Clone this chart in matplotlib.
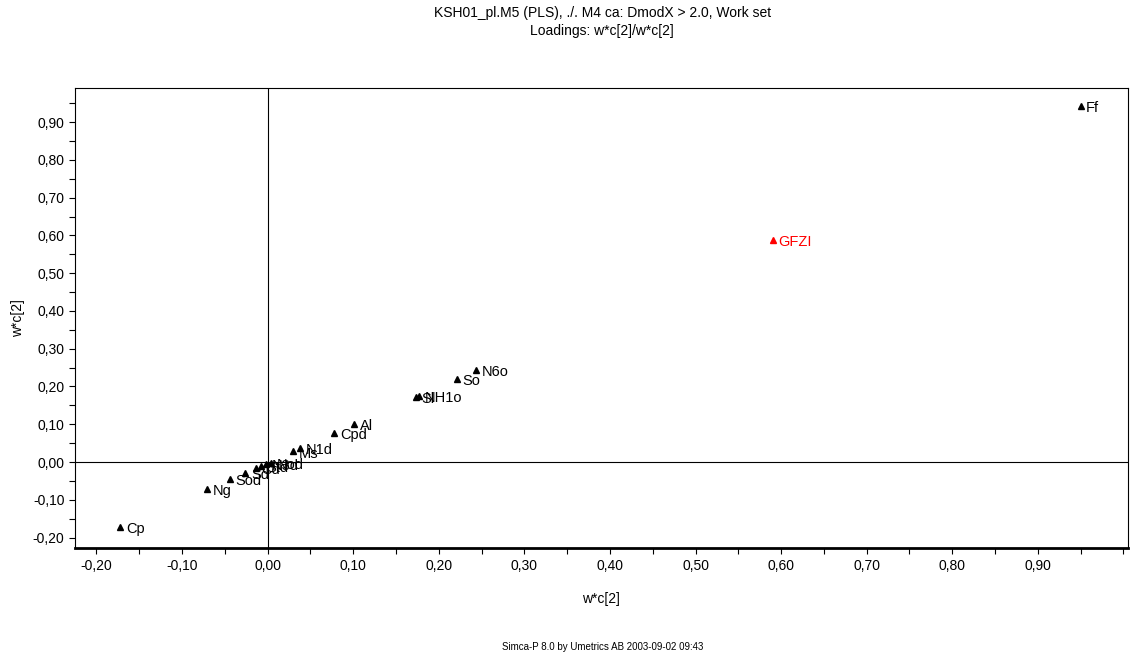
import numpy as np
import matplotlib
matplotlib.use("Agg")
import matplotlib.pyplot as plt
from matplotlib.ticker import FuncFormatter, MultipleLocator

plt.rcParams['font.family'] = ['Liberation Sans', 'DejaVu Sans']

# loadings (x and y are both w*c[2], so points sit on the diagonal)
names = ["Ff", "GFZI", "N6o", "So", "NH1o", "Sl", "Al", "Cpd", "N1d", "Ms",
         "Cp", "Ng", "Sod", "Sd", "Cd", "Std", "N3d", "Nod"]
wc2_x = [0.950, 0.590, 0.244, 0.221, 0.177, 0.173, 0.101, 0.078, 0.038, 0.030,
         -0.172, -0.071, -0.044, -0.026, -0.014, -0.008, -0.002, 0.004]
wc2_y = [0.944, 0.588, 0.243, 0.220, 0.175, 0.172, 0.100, 0.077, 0.038, 0.028,
         -0.172, -0.071, -0.044, -0.028, -0.016, -0.011, -0.006, -0.003]
colors = ["black", "red"] + ["black"] * 16

fig = plt.figure(figsize=(11.3, 6.58), dpi=100)
ax = fig.add_axes([0.0664, 0.167, 0.9316, 0.699])

ax.axhline(0, color="black", lw=0.8, zorder=1)
ax.axvline(0, color="black", lw=0.8, zorder=1)

for n, x, y, c in zip(names, wc2_x, wc2_y, colors):
    ax.plot(x, y, marker="^", color=c, markersize=5, linestyle="none", zorder=3)
    ax.annotate(n, (x, y), xytext=(4, -1.5), textcoords="offset points",
                fontsize=10.5, color=c, va="center", ha="left")

ax.set_xlim(-0.225, 1.005)
ax.set_ylim(-0.228, 0.99)

fmt = FuncFormatter(lambda v, p: f"{v:.2f}".replace(".", ","))
ax.xaxis.set_minor_locator(MultipleLocator(0.05))
ax.yaxis.set_minor_locator(MultipleLocator(0.05))
ax.set_xticks([t / 10 for t in range(-2, 10)])
ax.set_yticks([t / 10 for t in range(-2, 10)])
ax.xaxis.set_major_formatter(fmt)
ax.yaxis.set_major_formatter(fmt)
ax.tick_params(which="both", direction="out", labelsize=10, length=4, width=0.8)
for s in ax.spines.values():
    s.set_linewidth(0.8)
ax.spines["bottom"].set_linewidth(2)

ax.set_xlabel("w*c[2]", fontsize=10, labelpad=14)
ax.set_ylabel("w*c[2]", fontsize=10, labelpad=6)

fig.text(0.533, 0.991, "KSH01_pl.M5 (PLS), ./. M4 ca: DmodX > 2.0, Work set",
         ha="center", va="top", fontsize=10)
fig.text(0.533, 0.964, "Loadings: w*c[2]/w*c[2]", ha="center", va="top", fontsize=10)
fig.text(0.533, 0.017, "Simca-P 8.0 by Umetrics AB 2003-09-02 09:43",
         ha="center", va="center", fontsize=7)

fig.savefig("out.png", dpi=100)
